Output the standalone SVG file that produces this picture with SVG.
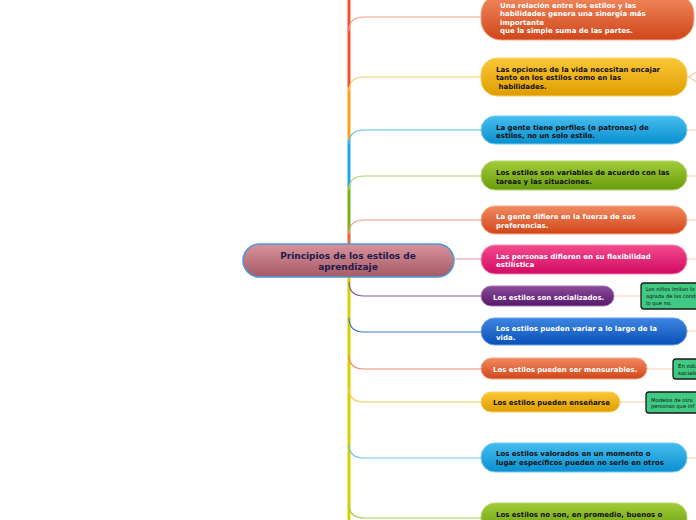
<svg xmlns="http://www.w3.org/2000/svg" width="696" height="520" viewBox="0 0 696 520">
<defs>
<linearGradient id="gRed" x1="0" y1="0" x2="0" y2="1"><stop offset="0" stop-color="#f28a60"/><stop offset="1" stop-color="#d0461a"/></linearGradient>
<linearGradient id="gGold" x1="0" y1="0" x2="0" y2="1"><stop offset="0" stop-color="#fbc738"/><stop offset="1" stop-color="#de9d00"/></linearGradient>
<linearGradient id="gBlue" x1="0" y1="0" x2="0" y2="1"><stop offset="0" stop-color="#46bdee"/><stop offset="1" stop-color="#0a8fcf"/></linearGradient>
<linearGradient id="gGreen" x1="0" y1="0" x2="0" y2="1"><stop offset="0" stop-color="#a0cc38"/><stop offset="1" stop-color="#689c0e"/></linearGradient>
<linearGradient id="gPink" x1="0" y1="0" x2="0" y2="1"><stop offset="0" stop-color="#f24a8e"/><stop offset="1" stop-color="#d20a62"/></linearGradient>
<linearGradient id="gPurple" x1="0" y1="0" x2="0" y2="1"><stop offset="0" stop-color="#8c4c9c"/><stop offset="1" stop-color="#561868"/></linearGradient>
<linearGradient id="gNavy" x1="0" y1="0" x2="0" y2="1"><stop offset="0" stop-color="#3e86e2"/><stop offset="1" stop-color="#0a4fb6"/></linearGradient>
<linearGradient id="gCenter" x1="0" y1="0" x2="0" y2="1"><stop offset="0" stop-color="#d8929c"/><stop offset="1" stop-color="#a65a66"/></linearGradient>
</defs>
<style>
.t{font-family:"DejaVu Sans","Verdana",sans-serif;font-weight:bold;font-size:7px}
.w{fill:#ffffff}
.k{fill:#111111}
.c{font-family:"DejaVu Sans","Verdana",sans-serif;font-size:5.2px;fill:#111}
.call{fill:#3fc982;stroke:#1a1a1a;stroke-width:1.3}
.br{fill:none;stroke-width:1.2}
.tr{fill:none;stroke-width:3}
.rl{fill:none;stroke:#f9cfa8;stroke-width:1.2}
</style>
<g id="connectors">
<line class="tr" x1="349" y1="0" x2="349" y2="87" stroke="#ee5030"/>
<line class="tr" x1="349" y1="87" x2="349" y2="140" stroke="#f7a21a"/>
<line class="tr" x1="349" y1="140" x2="349" y2="186" stroke="#22a6e2"/>
<line class="tr" x1="349" y1="186" x2="349" y2="232" stroke="#78b21a"/>
<line class="tr" x1="349" y1="232" x2="349" y2="245" stroke="#e8643c"/>
<line class="tr" x1="349" y1="276" x2="349" y2="520" stroke="#d8ce00"/>
<path class="br" stroke="#f4a080" d="M349 31 C349 21 354 17 364 17 H481"/>
<path class="br" stroke="#f9cc60" d="M349 91 C349 81 354 77 364 77 H481"/>
<path class="br" stroke="#58bde8" d="M349 144 C349 134 354 130 364 130 H481"/>
<path class="br" stroke="#b0d070" d="M349 190 C349 180 354 176 364 176 H481"/>
<path class="br" stroke="#f29a7a" d="M349 234 C349 224 354 220 364 220 H481"/>
<path class="br" stroke="#f4a0c4" d="M454 259 H481"/>
<path class="br" stroke="#8a5aa0" d="M349 282 C349 292 354 296 364 296 H481"/>
<path class="br" stroke="#3a7ad8" d="M349 318 C349 328 354 332 364 332 H481"/>
<path class="br" stroke="#f08a6a" d="M349 355 C349 365 354 369 364 369 H481"/>
<path class="br" stroke="#f8c850" d="M349 388 C349 398 354 402 364 402 H481"/>
<path class="br" stroke="#68c4f0" d="M349 444 C349 454 354 458 364 458 H481"/>
<path class="br" stroke="#a8cc50" d="M349 504 C349 514 354 518 364 518 H481"/>
<path class="rl" d="M687 77 C692 77 692 74 696 72 M687 77 C692 77 692 80 696 82"/>
<path class="rl" d="M687 130 H696 M687 176 H696 M687 220 H696 M687 259 H696 M687 331 H696 M687 458 H696"/>
<path class="rl" d="M614 296 H641 M647 369 H673 M620 402 H646"/>
</g>
<g id="center">
<rect x="243" y="244" width="211" height="33" rx="16.5" fill="url(#gCenter)" stroke="#4a9ad8" stroke-width="1.5"/>
<text x="348" y="259" text-anchor="middle" style="font-family:'DejaVu Sans',Verdana,sans-serif;font-weight:bold;font-size:9px;fill:#1b1b4e">Principios de los estilos de</text>
<text x="348" y="270" text-anchor="middle" style="font-family:'DejaVu Sans',Verdana,sans-serif;font-weight:bold;font-size:9px;fill:#1b1b4e">aprendizaje</text>
</g>
<g id="n1">
<rect x="481" y="-6" width="213" height="46" rx="20" fill="url(#gRed)" stroke="#f6a888" stroke-width="1"/>
<text class="t w" x="500" y="7.5">Una relación entre los estilos y las</text>
<text class="t w" x="500" y="16">habilidades genera una sinergia más</text>
<text class="t w" x="500" y="24.5">importante</text>
<text class="t w" x="500" y="33">que la simple suma de las partes.</text>
</g>
<g id="n2">
<rect x="481" y="58" width="206" height="38" rx="16" fill="url(#gGold)" stroke="#fbd060" stroke-width="1"/>
<text class="t k" x="496" y="71.5">Las opciones de la vida necesitan encajar</text>
<text class="t k" x="496" y="80">tanto en los estilos como en las</text>
<text class="t k" x="496" y="88.5">&#160;habilidades.</text>
</g>
<g id="n3">
<rect x="481" y="116" width="206" height="28" rx="14" fill="url(#gBlue)" stroke="#70ccf2" stroke-width="1"/>
<text class="t k" x="496" y="129.5">La gente tiene perfiles (o patrones) de</text>
<text class="t k" x="496" y="138">estilos, no un solo estilo.</text>
</g>
<g id="n4">
<rect x="481" y="161" width="206" height="29" rx="14" fill="url(#gGreen)" stroke="#b8d870" stroke-width="1"/>
<text class="t k" x="496" y="174.5">Los estilos son variables de acuerdo con las</text>
<text class="t k" x="496" y="183.5">tareas y las situaciones.</text>
</g>
<g id="n5">
<rect x="481" y="206" width="206" height="28" rx="14" fill="url(#gRed)" stroke="#f6a888" stroke-width="1"/>
<text class="t w" x="496" y="218.5">La gente difiere en la fuerza de sus</text>
<text class="t w" x="496" y="227.5">preferencias.</text>
</g>
<g id="n6">
<rect x="481" y="245" width="206" height="29" rx="14" fill="url(#gPink)" stroke="#f688b4" stroke-width="1"/>
<text class="t w" x="496" y="258.5">Las personas difieren en su flexibilidad</text>
<text class="t w" x="496" y="266.5">estilística</text>
</g>
<g id="n7">
<rect x="481" y="286" width="133" height="20" rx="10" fill="url(#gPurple)" stroke="#a878b8" stroke-width="1"/>
<text class="t w" x="493" y="299.5">Los estilos son socializados.</text>
</g>
<g id="c7">
<rect class="call" x="641" y="283" width="70" height="26" rx="3"/>
<text class="c" x="646" y="291">Los niños imitan lo</text>
<text class="c" x="646" y="297.5">agrada de las cond</text>
<text class="c" x="646" y="304.5">lo que no.</text>
</g>
<g id="n8">
<rect x="481" y="318" width="206" height="27" rx="13.5" fill="url(#gNavy)" stroke="#6aa0ec" stroke-width="1"/>
<text class="t w" x="496" y="330.5">Los estilos pueden variar a lo largo de la</text>
<text class="t w" x="496" y="339.5">vida.</text>
</g>
<g id="n9">
<rect x="481" y="358" width="166" height="21" rx="10.5" fill="url(#gRed)" stroke="#f6a888" stroke-width="1"/>
<text class="t w" x="493" y="371.5">Los estilos pueden ser mensurables.</text>
</g>
<g id="c9">
<rect class="call" x="673" y="359" width="40" height="20" rx="3"/>
<text class="c" x="678" y="367.5" style="font-size:5.6px">En edu</text>
<text class="c" x="678" y="374.5" style="font-size:5.6px">sociale</text>
</g>
<g id="n10">
<rect x="481" y="392" width="139" height="20" rx="10" fill="url(#gGold)" stroke="#fbd060" stroke-width="1"/>
<text class="t k" x="493" y="404.5">Los estilos pueden enseñarse</text>
</g>
<g id="c10">
<rect class="call" x="646" y="392" width="60" height="21" rx="3"/>
<text class="c" x="651" y="401.5">Modelos de otra</text>
<text class="c" x="651" y="408">personas que inf</text>
</g>
<g id="n11">
<rect x="481" y="443" width="206" height="29" rx="14" fill="url(#gBlue)" stroke="#70ccf2" stroke-width="1"/>
<text class="t k" x="496" y="455.5">Los estilos valorados en un momento o</text>
<text class="t k" x="496" y="464.5">lugar específicos pueden no serlo en otros</text>
</g>
<g id="n12">
<rect x="481" y="503" width="206" height="30" rx="14" fill="url(#gGreen)" stroke="#b8d870" stroke-width="1"/>
<text class="t k" x="496" y="516.5">Los estilos no son, en promedio, buenos o</text>
</g>
</svg>
